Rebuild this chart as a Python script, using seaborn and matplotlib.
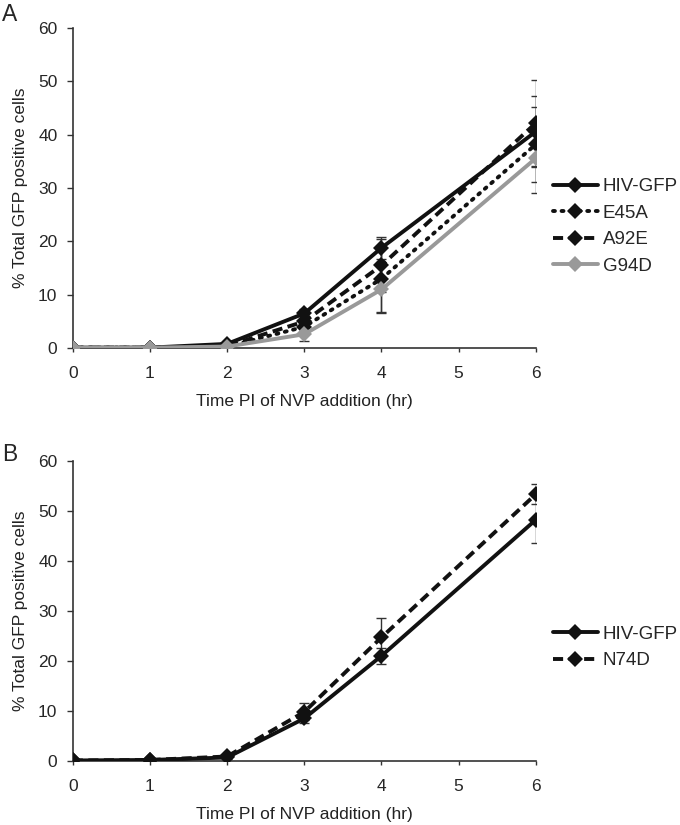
import numpy as np
import pandas as pd
import matplotlib
matplotlib.use("Agg")
import matplotlib.pyplot as plt
import seaborn as sns

# hours post NVP addition
hours = [0, 1, 2, 3, 4, 6]

# panel A: % GFP positive cells
a_hiv = [0.1, 0.1, 0.8, 6.5, 18.8, 40.6]
a_e45a = [0.1, 0.1, 0.3, 4.0, 13.0, 38.2]
a_a92e = [0.1, 0.1, 0.4, 5.0, 15.5, 42.2]
a_g94d = [0.1, 0.1, 0.3, 2.6, 11.0, 35.6]
a_hiv_err = [0.1, 0.1, 0.3, 0.8, 2.0, 6.6]
a_e45a_err = [0.1, 0.1, 0.2, 1.0, 6.2, 7.0]
a_a92e_err = [0.1, 0.1, 0.2, 1.0, 5.0, 8.0]
a_g94d_err = [0.1, 0.1, 0.2, 1.2, 4.5, 6.6]

# panel B
b_hiv = [0.1, 0.2, 0.7, 8.5, 21.0, 48.2]
b_n74d = [0.1, 0.2, 0.9, 9.8, 24.7, 53.3]
b_hiv_err = [0.1, 0.1, 0.3, 1.0, 1.6, 4.7]
b_n74d_err = [0.1, 0.1, 0.3, 1.7, 3.8, 2.0]

sns.set_theme(style="ticks")
plt.rcParams['font.family'] = ['Liberation Sans', 'DejaVu Sans']

fig = plt.figure(figsize=(6.8, 8.25), dpi=100)
axA = fig.add_axes([0.107, 0.578, 0.681, 0.388])
axB = fig.add_axes([0.107, 0.0776, 0.681, 0.364])

styles = {
    'HIV-GFP': dict(color='#111111', linestyle='-'),
    'E45A': dict(color='#111111', linestyle=(0, (0.5, 1.7)), dash_capstyle='round'),
    'A92E': dict(color='#111111', linestyle=(0, (2.6, 1.4))),
    'G94D': dict(color='#999999', linestyle='-'),
    'N74D': dict(color='#111111', linestyle=(0, (2.6, 1.4))),
}


def draw(ax, series, ymax):
    for name, vals, err in series:
        st = styles[name]
        ax.errorbar(hours, vals, yerr=err, fmt='none', ecolor='#333333',
                    elinewidth=1, capsize=3.6, capthick=1, zorder=1)
        sns.lineplot(x=hours, y=vals, ax=ax, marker='D', markersize=8.5,
                     markeredgewidth=0, linewidth=2.8, label=name, zorder=3, **st)
    ax.set_xlim(0, 6)
    ax.set_ylim(0, ymax)
    ax.set_xticks(range(7))
    ax.set_yticks(range(0, ymax + 1, 10))
    ax.tick_params(axis='x', labelsize=12.5, length=3, width=1, color='#333333', pad=10)
    ax.tick_params(axis='y', labelsize=12.5, length=4, width=1, color='#333333', pad=7)
    sns.despine(ax=ax)
    for s in ['left', 'bottom']:
        ax.spines[s].set_linewidth(1.2)
        ax.spines[s].set_color('#333333')
    ax.set_xlabel('Time PI of NVP addition (hr)', fontsize=12.5, labelpad=9, color='#222222')
    ax.set_ylabel('% Total GFP positive cells', fontsize=12.5, labelpad=7, color='#222222')
    ax.grid(False)


draw(axA, [('HIV-GFP', a_hiv, a_hiv_err), ('E45A', a_e45a, a_e45a_err),
           ('A92E', a_a92e, a_a92e_err), ('G94D', a_g94d, a_g94d_err)], 60)
draw(axB, [('HIV-GFP', b_hiv, b_hiv_err), ('N74D', b_n74d, b_n74d_err)], 60)

leg_kw = dict(loc='center left', frameon=False, fontsize=13.5, handlelength=2.4,
              labelspacing=0.5, handletextpad=0.25, borderpad=0, borderaxespad=0,
              bbox_transform=fig.transFigure)
axA.legend(bbox_to_anchor=(0.813, 0.7255), **leg_kw)
axB.legend(bbox_to_anchor=(0.813, 0.215), **leg_kw)

fig.text(0.003, 0.982, 'A', fontsize=16.5, va='center')
fig.text(0.003, 0.449, 'B', fontsize=16.5, va='center')

fig.savefig('out.png', dpi=100)
